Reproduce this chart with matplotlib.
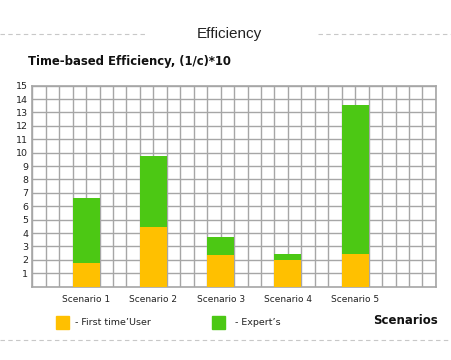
import matplotlib.pyplot as plt
from matplotlib.lines import Line2D
from matplotlib.patches import Rectangle

scenarios = ["Scenario 1", "Scenario 2", "Scenario 3", "Scenario 4", "Scenario 5"]
first_time = [1.8, 4.43, 2.39, 1.97, 2.46]
expert_top = [6.64, 9.75, 3.73, 2.46, 13.56]
expert = [t - f for t, f in zip(expert_top, first_time)]
y_ticks = list(range(1, 16))

yellow = "#FFC000"
green = "#4CC814"
grid_c = "#A6A6A6"

fig = plt.figure(figsize=(4.52, 3.6), dpi=100)
ax = fig.add_axes([0.0715, 0.2036, 0.893, 0.5584])

centers = [4 + 5 * i for i in range(len(scenarios))]
ax.bar(centers, first_time, width=2, color=yellow, zorder=3)
ax.bar(centers, expert, width=2, bottom=first_time, color=green, zorder=3)

ax.set_xlim(0, 30)
ax.set_ylim(0, 15)
ax.xaxis.remove_overlapping_locs = False
ax.set_xticks(centers)
ax.set_xticklabels(scenarios, fontsize=6.5, color="#222222")
ax.set_xticks(range(31), minor=True)
ax.set_yticks(y_ticks)
ax.set_yticklabels([str(v) for v in y_ticks], fontsize=6.8, color="#222222")
ax.xaxis.grid(True, which="minor", color=grid_c, linewidth=1.0, zorder=1)
ax.yaxis.grid(True, which="major", color=grid_c, linewidth=1.0, zorder=1)
ax.set_axisbelow(True)
ax.tick_params(which="both", length=0, pad=3)
ax.tick_params(axis="x", pad=6)
for s in ax.spines.values():
    s.set_color(grid_c)
    s.set_linewidth(1.2)

# header
fig.text(0.507, 0.905, "Efficiency", ha="center", va="center", fontsize=11,
         family="Liberation Sans", color="#222222")
fig.add_artist(Line2D([0, 0.32], [0.905, 0.905], color="#C8C8C8", lw=0.8, ls=(0, (4, 3))))
fig.add_artist(Line2D([0.703, 1.0], [0.905, 0.905], color="#C8C8C8", lw=0.8, ls=(0, (4, 3))))
fig.add_artist(Line2D([0, 1.0], [0.055, 0.055], color="#C8C8C8", lw=0.8, ls=(0, (4, 3))))
fig.text(0.062, 0.83, "Time-based Efficiency, (1/c)*10", ha="left", va="center",
         fontsize=8.4, fontweight="bold", color="#111111")

# legend
fig.add_artist(Rectangle((0.123, 0.086), 0.029, 0.036, color=yellow, transform=fig.transFigure))
fig.text(0.166, 0.104, "- First time\u2019User", ha="left", va="center", fontsize=6.8, color="#222222")
fig.add_artist(Rectangle((0.469, 0.086), 0.029, 0.036, color=green, transform=fig.transFigure))
fig.text(0.52, 0.104, "- Expert\u2019s", ha="left", va="center", fontsize=6.8, color="#222222")
fig.text(0.968, 0.11, "Scenarios", ha="right", va="center", fontsize=8.5,
         fontweight="bold", color="#111111")

fig.savefig("out.png", dpi=100)
